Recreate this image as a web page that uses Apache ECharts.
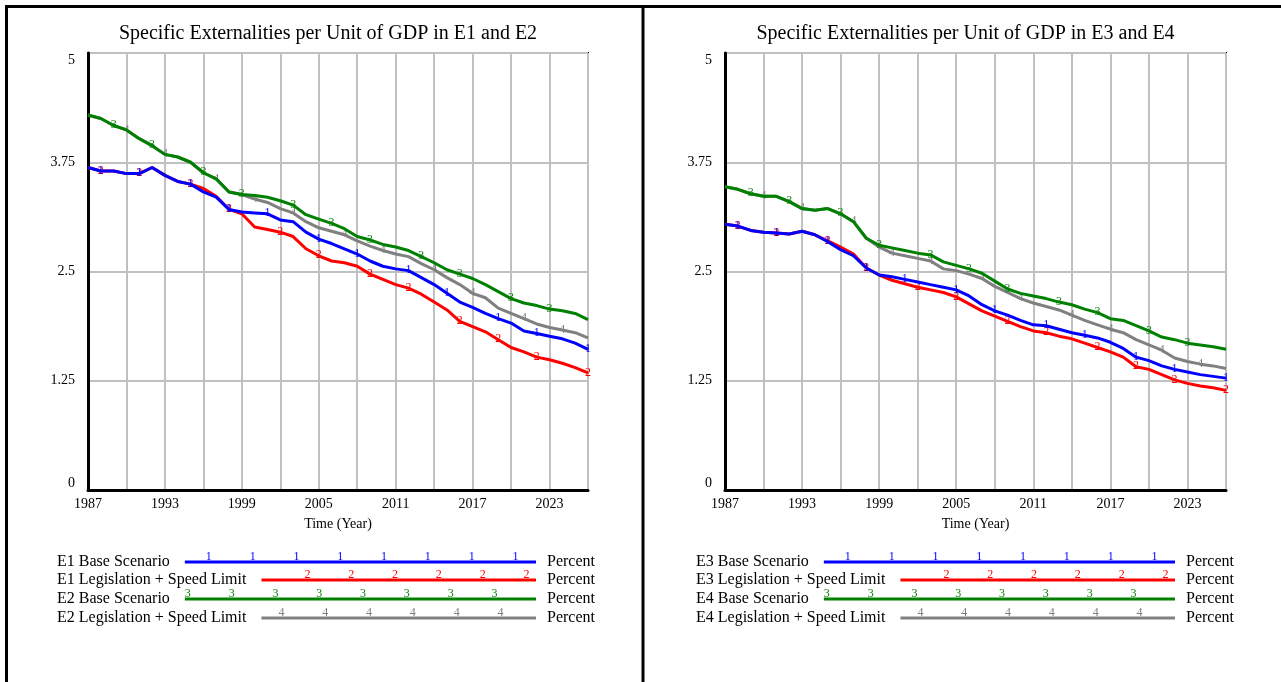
<!DOCTYPE html>
<html>
<head>
<meta charset="utf-8">
<script src="https://cdn.jsdelivr.net/npm/echarts@6/dist/echarts.min.js"></script>
<style>
html,body{margin:0;padding:0;background:#fff;}
#chart{width:1281px;height:682px;}
</style>
</head>
<body>
<div id="chart"></div>
<script>
// ---------- data ----------
const years = [1987,1988,1989,1990,1991,1992,1993,1994,1995,1996,1997,1998,1999,2000,2001,2002,2003,2004,2005,2006,
               2007,2008,2009,2010,2011,2012,2013,2014,2015,2016,2017,2018,2019,2020,2021,2022,2023,2024,2025,2026];
const yTicks = [0, 1.25, 2.5, 3.75, 5];
const titles = ['Specific Externalities per Unit of GDP in E1 and E2', 'Specific Externalities per Unit of GDP in E3 and E4'];
const unitLabel = 'Percent';
const xAxisName = 'Time (Year)';

const namesLeft = ['E1 Base Scenario', 'E1 Legislation + Speed Limit', 'E2 Base Scenario', 'E2 Legislation + Speed Limit'];
const namesRight = ['E3 Base Scenario', 'E3 Legislation + Speed Limit', 'E4 Base Scenario', 'E4 Legislation + Speed Limit'];

const e1Base = [3.69,3.65,3.65,3.62,3.62,3.69,3.60,3.53,3.50,3.41,3.35,3.21,3.18,3.17,3.16,3.09,3.07,2.95,2.87,2.82,
                2.76,2.70,2.62,2.56,2.53,2.51,2.43,2.35,2.25,2.15,2.09,2.02,1.96,1.91,1.82,1.79,1.76,1.73,1.68,1.61];
const e1Leg  = [3.69,3.65,3.65,3.62,3.62,3.69,3.60,3.53,3.50,3.45,3.36,3.21,3.16,3.01,2.98,2.95,2.90,2.76,2.68,2.62,
                2.60,2.56,2.47,2.41,2.35,2.31,2.24,2.15,2.06,1.93,1.87,1.81,1.72,1.63,1.58,1.52,1.49,1.45,1.40,1.34];
const e2Base = [4.29,4.25,4.17,4.12,4.02,3.94,3.84,3.81,3.75,3.63,3.56,3.41,3.38,3.37,3.35,3.31,3.26,3.15,3.10,3.05,
                2.99,2.90,2.86,2.81,2.78,2.74,2.67,2.60,2.52,2.47,2.42,2.35,2.27,2.19,2.14,2.11,2.07,2.05,2.02,1.95];
const e2Leg  = [4.29,4.25,4.17,4.12,4.02,3.94,3.84,3.81,3.75,3.63,3.56,3.41,3.38,3.33,3.29,3.22,3.17,3.07,3.00,2.96,
                2.92,2.85,2.79,2.74,2.70,2.67,2.59,2.52,2.43,2.35,2.25,2.20,2.08,2.02,1.96,1.90,1.86,1.83,1.80,1.74];

const e3Base = [3.04,3.02,2.97,2.95,2.94,2.93,2.96,2.92,2.84,2.75,2.68,2.54,2.46,2.44,2.41,2.38,2.35,2.32,2.29,2.22,
                2.12,2.05,2.00,1.94,1.89,1.88,1.84,1.80,1.77,1.74,1.69,1.62,1.52,1.48,1.42,1.38,1.35,1.32,1.30,1.28];
const e3Leg  = [3.04,3.02,2.97,2.95,2.94,2.93,2.96,2.92,2.85,2.78,2.70,2.54,2.46,2.40,2.36,2.32,2.29,2.26,2.21,2.13,
                2.05,1.99,1.93,1.87,1.82,1.80,1.76,1.73,1.68,1.63,1.58,1.52,1.41,1.38,1.32,1.26,1.22,1.19,1.17,1.14];
const e4Base = [3.47,3.44,3.39,3.36,3.36,3.30,3.22,3.20,3.22,3.16,3.07,2.88,2.80,2.77,2.74,2.71,2.69,2.61,2.57,2.53,
                2.48,2.39,2.30,2.25,2.22,2.19,2.15,2.12,2.07,2.03,1.96,1.94,1.88,1.82,1.75,1.72,1.68,1.66,1.64,1.61];
const e4Leg  = [3.47,3.44,3.39,3.36,3.36,3.30,3.22,3.20,3.22,3.16,3.07,2.88,2.78,2.71,2.68,2.65,2.62,2.53,2.51,2.47,
                2.42,2.33,2.26,2.19,2.14,2.10,2.06,2.00,1.94,1.89,1.84,1.80,1.72,1.66,1.60,1.51,1.47,1.44,1.42,1.39];

// ---------- styling ----------
const FONT = '"Liberation Serif", "Times New Roman", serif';
const colors = ['#0000FF', '#FF0000', '#008000', '#808080'];
const markerOffsets = [0.6, 0.9, 1.7, 2.6];
const markerStep = 3.45;
const grids = [
  {left: 88, top: 53, width: 500, height: 437},
  {left: 725, top: 53, width: 501, height: 437}
];
const panelShift = [0, 639];

function markerIdx(s) {
  const set = new Set();
  for (let k = 0; ; k++) {
    const i = Math.round(markerOffsets[s] + k * markerStep);
    if (i >= years.length) break;
    set.add(i);
  }
  return set;
}

function buildSeries(gridIndex, name, values, s) {
  const marks = markerIdx(s);
  const data = values.map((v, i) => {
    const item = {value: [years[i], v]};
    if (marks.has(i)) {
      item.symbol = 'circle';
      item.symbolSize = 1;
      item.label = {show: true};
    }
    return item;
  });
  return {
    type: 'line',
    name: name,
    xAxisIndex: gridIndex, yAxisIndex: gridIndex,
    data: data,
    symbol: 'none',
    showSymbol: true,
    z: 10 - s,
    lineStyle: {color: colors[s], width: 3},
    itemStyle: {color: colors[s]},
    label: {show: false, position: 'top', distance: -6, formatter: String(s + 1),
            color: colors[s], fontSize: 12, fontFamily: FONT},
    emphasis: {disabled: true},
    silent: true,
    animation: false
  };
}

function xAxis(g) {
  return {
    type: 'value', gridIndex: g, min: 1987, max: 2026, interval: 3,
    name: xAxisName, nameLocation: 'middle', nameGap: 27,
    nameTextStyle: {fontFamily: FONT, fontSize: 14, color: '#000'},
    axisLine: {show: true, onZero: false, lineStyle: {color: '#000', width: 3}},
    axisTick: {show: false},
    axisLabel: {fontFamily: FONT, fontSize: 14, color: '#000', margin: 7,
      formatter: v => ((v - 1987) % 6 === 0 ? String(v) : '')},
    splitLine: {show: true, lineStyle: {color: '#C0C0C0', width: 2}}
  };
}
function yAxis(g) {
  return {
    type: 'value', gridIndex: g, min: yTicks[0], max: yTicks[yTicks.length - 1], interval: 1.25,
    axisLine: {show: true, lineStyle: {color: '#000', width: 3}},
    axisTick: {show: false},
    axisLabel: {fontFamily: FONT, fontSize: 14, color: '#000', margin: 13,
      verticalAlignMaxLabel: 'top', verticalAlignMinLabel: 'bottom'},
    splitLine: {show: true, lineStyle: {color: '#C0C0C0', width: 2}}
  };
}

// ---------- legend (drawn as graphics) ----------
const LEG_FS = 16;
const measureCtx = document.createElement('canvas').getContext('2d');
function textWidth(t, size) {
  measureCtx.font = size + 'px ' + FONT;
  return measureCtx.measureText(t).width;
}
const legendRowsY = [562, 580, 599, 618];
const legendMarkerStart = [24, 46, 3, 20];
function legendGraphics(names, p) {
  const out = [];
  const dx = panelShift[p];
  const textX = 57 + dx, lineEnd = 536 + dx, unitX = 547 + dx;
  names.forEach((nm, s) => {
    const y = legendRowsY[s];
    const x0 = textX + textWidth(nm, LEG_FS) + 15;
    out.push({type: 'text', left: textX, top: y - 8,
      style: {text: nm, font: LEG_FS + 'px ' + FONT, fill: '#000'}});
    out.push({type: 'line', shape: {x1: x0, y1: y, x2: lineEnd, y2: y},
      style: {stroke: colors[s], lineWidth: 3}});
    for (let mx = x0 + legendMarkerStart[s]; mx < lineEnd - 4; mx += 43.8) {
      out.push({type: 'text', x: mx, y: y - 5,
        style: {text: String(s + 1), font: '12px ' + FONT, fill: colors[s], align: 'center', verticalAlign: 'middle'}});
    }
    out.push({type: 'text', left: unitX, top: y - 8,
      style: {text: unitLabel, font: LEG_FS + 'px ' + FONT, fill: '#000'}});
  });
  return out;
}

const frame = [
  {type: 'line', shape: {x1: 5, y1: 6.5, x2: 1281, y2: 6.5}, style: {stroke: '#000', lineWidth: 3}},
  {type: 'line', shape: {x1: 6.5, y1: 5, x2: 6.5, y2: 682}, style: {stroke: '#000', lineWidth: 3}},
  {type: 'line', shape: {x1: 643, y1: 5, x2: 643, y2: 682}, style: {stroke: '#000', lineWidth: 3}}
];

const chart = echarts.init(document.getElementById('chart'), null, {renderer: 'canvas'});
chart.setOption({
  backgroundColor: '#fff',
  animation: false,
  title: titles.map((t, i) => ({
    text: t, left: grids[i].left + grids[i].width / 2 - 15, top: 19, textAlign: 'center',
    textStyle: {fontFamily: FONT, fontSize: 20, fontWeight: 'normal', color: '#000'}
  })),
  grid: grids.map(g => Object.assign({show: true, borderColor: '#000', borderWidth: 2, backgroundColor: '#fff'}, g)),
  xAxis: [xAxis(0), xAxis(1)],
  yAxis: [yAxis(0), yAxis(1)],
  series: [
    buildSeries(0, namesLeft[0], e1Base, 0),
    buildSeries(0, namesLeft[1], e1Leg, 1),
    buildSeries(0, namesLeft[2], e2Base, 2),
    buildSeries(0, namesLeft[3], e2Leg, 3),
    buildSeries(1, namesRight[0], e3Base, 0),
    buildSeries(1, namesRight[1], e3Leg, 1),
    buildSeries(1, namesRight[2], e4Base, 2),
    buildSeries(1, namesRight[3], e4Leg, 3)
  ],
  graphic: frame.concat(legendGraphics(namesLeft, 0), legendGraphics(namesRight, 1))
});
</script>
</body>
</html>
